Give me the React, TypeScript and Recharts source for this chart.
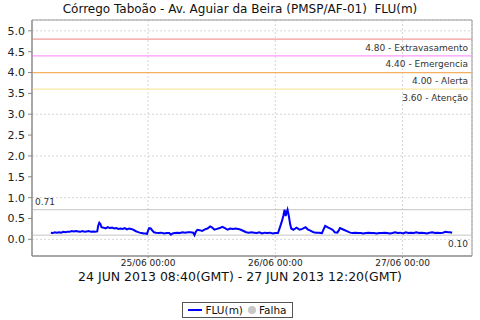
import { LineChart, Line, XAxis, YAxis, CartesianGrid, ReferenceLine, ReferenceArea } from "recharts";

// hours relative to 25/06 00:00 (local)
const hours = [
  -18.35, -18.0, -17.6, -17.2, -16.8, -16.4, -16.0, -15.6, -15.2, -14.8, -14.4, -14.0, -13.6, -13.2, -12.8, -12.4,
  -12.0, -11.6, -11.2, -10.8, -10.4, -10.0, -9.6, -9.4, -9.2, -9.0, -8.8, -8.4, -8.0, -7.6, -7.2, -6.8, -6.4, -6.0,
  -5.6, -5.2, -4.8, -4.4, -4.0, -3.6, -3.2, -2.8, -2.4, -2.0, -1.6, -1.2, -0.8, -0.4, -0.2, 0.0, 0.2, 0.5, 0.8, 1.1,
  1.5, 2.0, 2.5, 3.0, 3.5, 4.0, 4.3, 4.6, 5.0, 5.5, 6.0, 6.5, 7.0, 7.5, 8.0, 8.5, 8.75, 9.0, 9.3, 9.7, 10.2, 10.7,
  11.2, 11.7, 12.1, 12.5, 13.0, 13.5, 14.0, 14.5, 15.0, 15.5, 16.0, 16.5, 17.0, 17.5, 18.0, 18.5, 19.0, 19.5, 20.0,
  20.5, 21.0, 21.5, 22.0, 22.5, 23.0, 23.5, 24.0, 24.5, 24.9, 25.3, 25.5, 25.75, 25.95, 26.1, 26.3, 26.55, 26.8, 27.0,
  27.4, 28.0, 28.6, 29.1, 29.7, 30.1, 30.6, 31.2, 31.7, 32.2, 32.8, 33.1, 33.4, 34.0, 34.5, 34.9, 35.2, 35.7, 36.0,
  36.2, 36.9, 37.6, 38.1, 38.6, 39.1, 39.6, 40.1, 40.6, 41.1, 41.6, 42.1, 42.6, 43.1, 43.6, 44.1, 44.6, 45.1, 45.6,
  46.1, 46.6, 47.1, 47.6, 48.1, 48.6, 49.1, 49.6, 50.1, 50.6, 51.1, 51.6, 52.1, 52.6, 53.1, 53.6, 54.1, 54.6, 55.1,
  55.6, 56.1, 56.6, 57.0, 57.35,
];

const level = [
  0.16, 0.15, 0.17, 0.16, 0.17, 0.16, 0.18, 0.17, 0.18, 0.18, 0.2, 0.19, 0.2, 0.19, 0.18, 0.2,
  0.18, 0.19, 0.2, 0.18, 0.19, 0.18, 0.19, 0.33, 0.4, 0.37, 0.29, 0.28, 0.26, 0.29, 0.27, 0.28, 0.26, 0.27,
  0.25, 0.26, 0.25, 0.27, 0.24, 0.26, 0.25, 0.23, 0.2, 0.18, 0.16, 0.15, 0.14, 0.14, 0.13, 0.21, 0.27, 0.26, 0.21, 0.17,
  0.16, 0.15, 0.16, 0.14, 0.15, 0.15, 0.11, 0.14, 0.15, 0.16, 0.15, 0.17, 0.16, 0.17, 0.17, 0.16, 0.1, 0.18, 0.23, 0.22, 0.2, 0.24,
  0.26, 0.31, 0.28, 0.23, 0.25, 0.27, 0.3, 0.27, 0.23, 0.26, 0.25, 0.26, 0.25, 0.23, 0.2, 0.17, 0.16, 0.17, 0.16,
  0.15, 0.17, 0.14, 0.16, 0.15, 0.16, 0.14, 0.15, 0.15, 0.3, 0.46, 0.56, 0.71, 0.56, 0.63, 0.71, 0.56, 0.36, 0.26,
  0.23, 0.28, 0.23, 0.25, 0.29, 0.24, 0.21, 0.17, 0.16, 0.16, 0.15, 0.24, 0.32, 0.28, 0.25, 0.22, 0.17, 0.16, 0.22,
  0.27, 0.23, 0.19, 0.16, 0.15, 0.16, 0.15, 0.15, 0.14, 0.15, 0.16, 0.15, 0.15, 0.14, 0.15, 0.15, 0.16, 0.15, 0.14,
  0.15, 0.17, 0.15, 0.16, 0.14, 0.17, 0.15, 0.16, 0.15, 0.17, 0.15, 0.16, 0.15, 0.14, 0.16, 0.17, 0.15, 0.16, 0.15,
  0.16, 0.18, 0.17, 0.17, 0.16,
];

const xTicks = [0, 24, 48];
const xTickLabels = ["25/06 00:00", "26/06 00:00", "27/06 00:00"];
const yTicks = [0, 0.5, 1, 1.5, 2, 2.5, 3, 3.5, 4, 4.5, 5];

const thresholds = [4.8, 4.4, 4.0, 3.6];
const thresholdNames = ["Extravasamento", "Emergencia", "Alerta", "Atenção"];
const thresholdColors = ["#f09a9a", "#ff99ff", "#f6b060", "#f8e8a4"];

const maxValue = 0.71;
const minValue = 0.1;

const title = "Córrego Taboão - Av. Aguiar da Beira (PMSP/AF-01)  FLU(m)";
const subtitle = "24 JUN 2013 08:40(GMT) - 27 JUN 2013 12:20(GMT)";

const data = hours.map((h, i) => ({ h, flu: level[i] }));

const X_DOMAIN: [number, number] = [-21.9, 61.1];
const Y_DOMAIN: [number, number] = [-0.4, 5.26];
const FONT = "DejaVu Sans";

const belowRight = (text: string) => (props: any) => {
  const vb = props.viewBox;
  return (
    <text x={vb.x + vb.width - 4} y={vb.y + 11.5} textAnchor="end" fontSize={9} fill="#333" fontFamily={FONT}>
      {text}
    </text>
  );
};

const aboveLeft = (text: string) => (props: any) => {
  const vb = props.viewBox;
  return (
    <text x={vb.x + 3} y={vb.y - 4.5} textAnchor="start" fontSize={9} fill="#333" fontFamily={FONT}>
      {text}
    </text>
  );
};

export default function App() {
  return (
    <div style={{ position: "absolute", left: 0, top: 0, width: 480, height: 320, background: "#fff", fontFamily: FONT }}>
      <div style={{ position: "absolute", left: 0, top: 2, width: 480, textAlign: "center", fontSize: 12, color: "#111", whiteSpace: "pre" }}>
        {title}
      </div>
      <LineChart width={480} height={320} data={data} margin={{ top: 20, right: 8, bottom: 44, left: 0 }}>
        <CartesianGrid strokeDasharray="2 2" stroke="#d6d6d6" />
        <XAxis
          dataKey="h"
          type="number"
          domain={X_DOMAIN}
          allowDataOverflow
          ticks={xTicks}
          tickFormatter={(v: number) => xTickLabels[xTicks.indexOf(v)]}
          height={20}
          tickSize={2}
          tickMargin={2}
          stroke="#888"
          tick={{ fill: "#222", fontSize: 9 }}
        />
        <YAxis
          type="number"
          domain={Y_DOMAIN}
          allowDataOverflow
          ticks={yTicks}
          tickFormatter={(v: number) => v.toFixed(1)}
          width={32}
          tickSize={4}
          tickMargin={3}
          stroke="#888"
          tick={{ fill: "#222", fontSize: 11 }}
        />
        <ReferenceArea x1={X_DOMAIN[0]} x2={X_DOMAIN[1]} y1={Y_DOMAIN[0]} y2={Y_DOMAIN[1]} fill="none" stroke="#999" strokeOpacity={1} />
        {thresholds.map((t, i) => (
          <ReferenceLine
            key={t}
            y={t}
            stroke={thresholdColors[i]}
            strokeWidth={1.2}
            label={belowRight(`${t.toFixed(2)} - ${thresholdNames[i]}`)}
          />
        ))}
        <ReferenceLine y={maxValue} stroke="#c4c4c4" label={aboveLeft(maxValue.toFixed(2))} />
        <ReferenceLine y={minValue} stroke="#c4c4c4" label={belowRight(minValue.toFixed(2))} />
        <Line type="linear" dataKey="flu" stroke="#0000ff" strokeWidth={2} dot={false} isAnimationActive={false} />
      </LineChart>
      <div style={{ position: "absolute", left: 0, top: 269.5, width: 480, textAlign: "center", fontSize: 12.5, lineHeight: "14px", color: "#111" }}>
        {subtitle}
      </div>
      <div
        style={{
          position: "absolute",
          left: 182,
          top: 302,
          width: 111,
          height: 16,
          boxSizing: "border-box",
          border: "1px solid #555",
          display: "flex",
          alignItems: "center",
          justifyContent: "center",
          fontSize: 10.5,
          color: "#111",
        }}
      >
        <span style={{ display: "inline-block", width: 14, height: 2, background: "#0000ff", marginRight: 3 }} />
        <span>FLU(m)</span>
        <span style={{ display: "inline-block", width: 8, height: 8, borderRadius: 4, background: "#c8c8c8", margin: "0 3px 0 5px" }} />
        <span>Falha</span>
      </div>
    </div>
  );
}
